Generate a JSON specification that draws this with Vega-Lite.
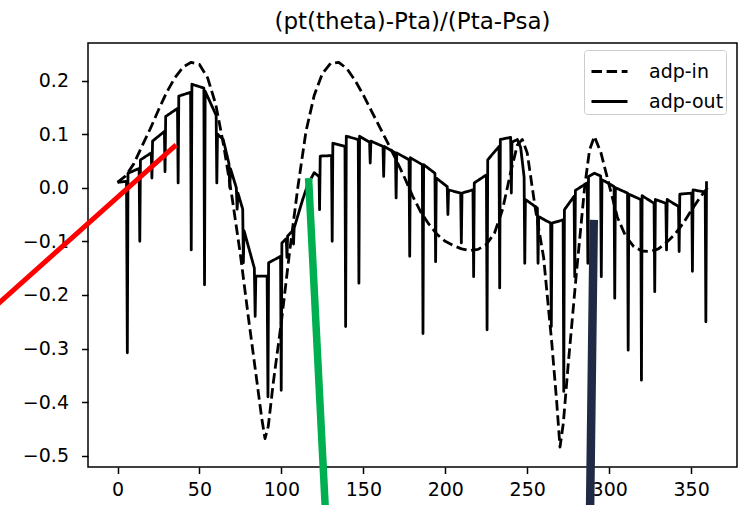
{
"$schema": "https://vega.github.io/schema/vega-lite/v6.json",
"width": 649, "height": 424,
"autosize": {"type": "none"},
"padding": {"left": 88, "top": 43, "right": 14, "bottom": 38},
"background": "white",
"title": {"text": "(pt(theta)-Pta)/(Pta-Psa)", "fontSize": 23, "font": "DejaVu Sans", "fontWeight": "normal", "color": "black", "offset": 9, "anchor": "middle"},
"config": {
  "view": {"stroke": "black", "strokeWidth": 1.5},
  "axis": {"grid": false, "domain": false, "tickColor": "black", "tickWidth": 1.5, "tickSize": 6.5, "labelFont": "DejaVu Sans", "labelFontSize": 19, "labelColor": "black", "labelPadding": 7, "title": null},
  "axisY": {"labelPadding": 13}
},
"datasets": {
  "series": [
{"s":"adp-in","i":0,"x":0,"y":0.01},{"s":"adp-in","i":1,"x":5,"y":0.022},{"s":"adp-in","i":2,"x":10,"y":0.045},{"s":"adp-in","i":3,"x":15,"y":0.078},{"s":"adp-in","i":4,"x":20,"y":0.11},{"s":"adp-in","i":5,"x":25,"y":0.145},{"s":"adp-in","i":6,"x":30,"y":0.178},{"s":"adp-in","i":7,"x":35,"y":0.205},{"s":"adp-in","i":8,"x":40,"y":0.225},{"s":"adp-in","i":9,"x":45,"y":0.234},{"s":"adp-in","i":10,"x":50,"y":0.23},{"s":"adp-in","i":11,"x":55,"y":0.205},{"s":"adp-in","i":12,"x":60,"y":0.155},{"s":"adp-in","i":13,"x":65,"y":0.075},{"s":"adp-in","i":14,"x":70,"y":-0.02},{"s":"adp-in","i":15,"x":75,"y":-0.125},{"s":"adp-in","i":16,"x":80,"y":-0.245},{"s":"adp-in","i":17,"x":85,"y":-0.36},{"s":"adp-in","i":18,"x":88,"y":-0.43},{"s":"adp-in","i":19,"x":90,"y":-0.468},{"s":"adp-in","i":20,"x":92,"y":-0.445},{"s":"adp-in","i":21,"x":95,"y":-0.365},{"s":"adp-in","i":22,"x":100,"y":-0.25},{"s":"adp-in","i":23,"x":105,"y":-0.12},{"s":"adp-in","i":24,"x":110,"y":0.0},{"s":"adp-in","i":25,"x":115,"y":0.105},{"s":"adp-in","i":26,"x":120,"y":0.172},{"s":"adp-in","i":27,"x":125,"y":0.213},{"s":"adp-in","i":28,"x":130,"y":0.232},{"s":"adp-in","i":29,"x":135,"y":0.234},{"s":"adp-in","i":30,"x":140,"y":0.222},{"s":"adp-in","i":31,"x":145,"y":0.2},{"s":"adp-in","i":32,"x":150,"y":0.173},{"s":"adp-in","i":33,"x":155,"y":0.143},{"s":"adp-in","i":34,"x":160,"y":0.113},{"s":"adp-in","i":35,"x":165,"y":0.083},{"s":"adp-in","i":36,"x":170,"y":0.052},{"s":"adp-in","i":37,"x":175,"y":0.02},{"s":"adp-in","i":38,"x":180,"y":-0.015},{"s":"adp-in","i":39,"x":185,"y":-0.045},{"s":"adp-in","i":40,"x":190,"y":-0.068},{"s":"adp-in","i":41,"x":195,"y":-0.087},{"s":"adp-in","i":42,"x":200,"y":-0.1},{"s":"adp-in","i":43,"x":205,"y":-0.108},{"s":"adp-in","i":44,"x":210,"y":-0.114},{"s":"adp-in","i":45,"x":215,"y":-0.117},{"s":"adp-in","i":46,"x":220,"y":-0.115},{"s":"adp-in","i":47,"x":225,"y":-0.106},{"s":"adp-in","i":48,"x":230,"y":-0.085},{"s":"adp-in","i":49,"x":235,"y":-0.04},{"s":"adp-in","i":50,"x":240,"y":0.03},{"s":"adp-in","i":51,"x":244,"y":0.08},{"s":"adp-in","i":52,"x":247,"y":0.09},{"s":"adp-in","i":53,"x":250,"y":0.065},{"s":"adp-in","i":54,"x":255,"y":-0.04},{"s":"adp-in","i":55,"x":260,"y":-0.13},{"s":"adp-in","i":56,"x":265,"y":-0.29},{"s":"adp-in","i":57,"x":268,"y":-0.4},{"s":"adp-in","i":58,"x":270,"y":-0.484},{"s":"adp-in","i":59,"x":272,"y":-0.44},{"s":"adp-in","i":60,"x":275,"y":-0.33},{"s":"adp-in","i":61,"x":280,"y":-0.16},{"s":"adp-in","i":62,"x":285,"y":0.0},{"s":"adp-in","i":63,"x":288,"y":0.07},{"s":"adp-in","i":64,"x":291,"y":0.096},{"s":"adp-in","i":65,"x":295,"y":0.065},{"s":"adp-in","i":66,"x":300,"y":0.005},{"s":"adp-in","i":67,"x":305,"y":-0.055},{"s":"adp-in","i":68,"x":310,"y":-0.09},{"s":"adp-in","i":69,"x":315,"y":-0.11},{"s":"adp-in","i":70,"x":320,"y":-0.118},{"s":"adp-in","i":71,"x":325,"y":-0.119},{"s":"adp-in","i":72,"x":330,"y":-0.114},{"s":"adp-in","i":73,"x":335,"y":-0.102},{"s":"adp-in","i":74,"x":340,"y":-0.087},{"s":"adp-in","i":75,"x":345,"y":-0.067},{"s":"adp-in","i":76,"x":350,"y":-0.043},{"s":"adp-in","i":77,"x":355,"y":-0.02},{"s":"adp-in","i":78,"x":360,"y":0.0},
{"s":"adp-out","i":0,"x":0,"y":0.01},{"s":"adp-out","i":1,"x":5.5,"y":0.012},{"s":"adp-out","i":2,"x":6,"y":-0.308},{"s":"adp-out","i":3,"x":6.4,"y":0.027},{"s":"adp-out","i":4,"x":13.2,"y":0.036},{"s":"adp-out","i":5,"x":13.6,"y":-0.1},{"s":"adp-out","i":6,"x":14,"y":0.052},{"s":"adp-out","i":7,"x":20.6,"y":0.065},{"s":"adp-out","i":8,"x":21,"y":0.018},{"s":"adp-out","i":9,"x":21.4,"y":0.087},{"s":"adp-out","i":10,"x":28.6,"y":0.105},{"s":"adp-out","i":11,"x":29,"y":0.03},{"s":"adp-out","i":12,"x":29.4,"y":0.133},{"s":"adp-out","i":13,"x":36.6,"y":0.148},{"s":"adp-out","i":14,"x":37,"y":0.009},{"s":"adp-out","i":15,"x":37.4,"y":0.171},{"s":"adp-out","i":16,"x":44.6,"y":0.178},{"s":"adp-out","i":17,"x":45,"y":-0.116},{"s":"adp-out","i":18,"x":45.4,"y":0.193},{"s":"adp-out","i":19,"x":52.7,"y":0.186},{"s":"adp-out","i":20,"x":53.1,"y":-0.181},{"s":"adp-out","i":21,"x":53.5,"y":0.18},{"s":"adp-out","i":22,"x":60.2,"y":0.135},{"s":"adp-out","i":23,"x":60.6,"y":0.009},{"s":"adp-out","i":24,"x":61,"y":0.1},{"s":"adp-out","i":25,"x":64.5,"y":0.09},{"s":"adp-out","i":26,"x":68,"y":0.045},{"s":"adp-out","i":27,"x":68.5,"y":0.0},{"s":"adp-out","i":28,"x":69,"y":0.035},{"s":"adp-out","i":29,"x":72.5,"y":0.0},{"s":"adp-out","i":30,"x":73,"y":-0.04},{"s":"adp-out","i":31,"x":73.5,"y":-0.01},{"s":"adp-out","i":32,"x":76.4,"y":-0.04},{"s":"adp-out","i":33,"x":76.8,"y":-0.14},{"s":"adp-out","i":34,"x":77.2,"y":-0.08},{"s":"adp-out","i":35,"x":83.5,"y":-0.15},{"s":"adp-out","i":36,"x":84,"y":-0.24},{"s":"adp-out","i":37,"x":84.4,"y":-0.165},{"s":"adp-out","i":38,"x":91.3,"y":-0.165},{"s":"adp-out","i":39,"x":91.8,"y":-0.39},{"s":"adp-out","i":40,"x":92.2,"y":-0.14},{"s":"adp-out","i":41,"x":99.5,"y":-0.128},{"s":"adp-out","i":42,"x":99.9,"y":-0.378},{"s":"adp-out","i":43,"x":100.3,"y":-0.103},{"s":"adp-out","i":44,"x":103,"y":-0.095},{"s":"adp-out","i":45,"x":103.4,"y":-0.13},{"s":"adp-out","i":46,"x":103.8,"y":-0.09},{"s":"adp-out","i":47,"x":107,"y":-0.08},{"s":"adp-out","i":48,"x":107.4,"y":-0.105},{"s":"adp-out","i":49,"x":107.8,"y":-0.075},{"s":"adp-out","i":50,"x":113,"y":-0.022},{"s":"adp-out","i":51,"x":116,"y":0.005},{"s":"adp-out","i":52,"x":120,"y":0.028},{"s":"adp-out","i":53,"x":123,"y":0.021},{"s":"adp-out","i":54,"x":123.3,"y":-0.041},{"s":"adp-out","i":55,"x":123.7,"y":0.059},{"s":"adp-out","i":56,"x":130.6,"y":0.06},{"s":"adp-out","i":57,"x":131,"y":-0.1},{"s":"adp-out","i":58,"x":131.4,"y":0.083},{"s":"adp-out","i":59,"x":138.8,"y":0.077},{"s":"adp-out","i":60,"x":139.2,"y":-0.259},{"s":"adp-out","i":61,"x":139.6,"y":0.096},{"s":"adp-out","i":62,"x":146.9,"y":0.09},{"s":"adp-out","i":63,"x":147.3,"y":-0.178},{"s":"adp-out","i":64,"x":147.7,"y":0.096},{"s":"adp-out","i":65,"x":153.8,"y":0.085},{"s":"adp-out","i":66,"x":154.2,"y":0.046},{"s":"adp-out","i":67,"x":154.6,"y":0.087},{"s":"adp-out","i":68,"x":162,"y":0.077},{"s":"adp-out","i":69,"x":162.4,"y":0.021},{"s":"adp-out","i":70,"x":162.8,"y":0.077},{"s":"adp-out","i":71,"x":169.6,"y":0.065},{"s":"adp-out","i":72,"x":170,"y":-0.019},{"s":"adp-out","i":73,"x":170.4,"y":0.065},{"s":"adp-out","i":74,"x":177.9,"y":0.052},{"s":"adp-out","i":75,"x":178.3,"y":-0.128},{"s":"adp-out","i":76,"x":178.7,"y":0.056},{"s":"adp-out","i":77,"x":186,"y":0.043},{"s":"adp-out","i":78,"x":186.4,"y":-0.272},{"s":"adp-out","i":79,"x":186.8,"y":0.043},{"s":"adp-out","i":80,"x":193.7,"y":0.027},{"s":"adp-out","i":81,"x":194.1,"y":-0.138},{"s":"adp-out","i":82,"x":194.5,"y":0.018},{"s":"adp-out","i":83,"x":201.2,"y":0.002},{"s":"adp-out","i":84,"x":201.6,"y":-0.05},{"s":"adp-out","i":85,"x":202,"y":-0.004},{"s":"adp-out","i":86,"x":209.4,"y":-0.01},{"s":"adp-out","i":87,"x":209.8,"y":-0.103},{"s":"adp-out","i":88,"x":210.2,"y":-0.01},{"s":"adp-out","i":89,"x":216.9,"y":-0.004},{"s":"adp-out","i":90,"x":217.3,"y":-0.166},{"s":"adp-out","i":91,"x":217.7,"y":0.009},{"s":"adp-out","i":92,"x":225.1,"y":0.024},{"s":"adp-out","i":93,"x":225.5,"y":-0.265},{"s":"adp-out","i":94,"x":225.9,"y":0.052},{"s":"adp-out","i":95,"x":232.8,"y":0.077},{"s":"adp-out","i":96,"x":233.2,"y":-0.187},{"s":"adp-out","i":97,"x":233.6,"y":0.09},{"s":"adp-out","i":98,"x":239.9,"y":0.094},{"s":"adp-out","i":99,"x":240.3,"y":-0.01},{"s":"adp-out","i":100,"x":240.7,"y":0.085},{"s":"adp-out","i":101,"x":244,"y":0.09},{"s":"adp-out","i":102,"x":246,"y":0.075},{"s":"adp-out","i":103,"x":248.1,"y":0.02},{"s":"adp-out","i":104,"x":248.5,"y":-0.141},{"s":"adp-out","i":105,"x":248.9,"y":-0.022},{"s":"adp-out","i":106,"x":256.2,"y":-0.038},{"s":"adp-out","i":107,"x":256.6,"y":-0.141},{"s":"adp-out","i":108,"x":257,"y":-0.054},{"s":"adp-out","i":109,"x":264.3,"y":-0.066},{"s":"adp-out","i":110,"x":264.7,"y":-0.259},{"s":"adp-out","i":111,"x":265.1,"y":-0.066},{"s":"adp-out","i":112,"x":271.9,"y":-0.06},{"s":"adp-out","i":113,"x":272.3,"y":-0.38},{"s":"adp-out","i":114,"x":272.7,"y":-0.041},{"s":"adp-out","i":115,"x":278.6,"y":-0.016},{"s":"adp-out","i":116,"x":279,"y":-0.166},{"s":"adp-out","i":117,"x":279.4,"y":-0.005},{"s":"adp-out","i":118,"x":286.6,"y":0.009},{"s":"adp-out","i":119,"x":287,"y":-0.141},{"s":"adp-out","i":120,"x":287.4,"y":0.021},{"s":"adp-out","i":121,"x":291,"y":0.027},{"s":"adp-out","i":122,"x":294.8,"y":0.022},{"s":"adp-out","i":123,"x":295.2,"y":-0.166},{"s":"adp-out","i":124,"x":295.6,"y":0.015},{"s":"adp-out","i":125,"x":303,"y":0.002},{"s":"adp-out","i":126,"x":303.4,"y":-0.206},{"s":"adp-out","i":127,"x":303.8,"y":0.0},{"s":"adp-out","i":128,"x":311.2,"y":-0.01},{"s":"adp-out","i":129,"x":311.6,"y":-0.303},{"s":"adp-out","i":130,"x":312,"y":-0.012},{"s":"adp-out","i":131,"x":319.3,"y":-0.022},{"s":"adp-out","i":132,"x":319.7,"y":-0.359},{"s":"adp-out","i":133,"x":320.1,"y":-0.015},{"s":"adp-out","i":134,"x":327.4,"y":-0.029},{"s":"adp-out","i":135,"x":327.8,"y":-0.194},{"s":"adp-out","i":136,"x":328.2,"y":-0.022},{"s":"adp-out","i":137,"x":334.6,"y":-0.029},{"s":"adp-out","i":138,"x":335,"y":-0.116},{"s":"adp-out","i":139,"x":335.4,"y":-0.022},{"s":"adp-out","i":140,"x":342.3,"y":-0.035},{"s":"adp-out","i":141,"x":342.7,"y":-0.119},{"s":"adp-out","i":142,"x":343.1,"y":-0.012},{"s":"adp-out","i":143,"x":350.4,"y":-0.01},{"s":"adp-out","i":144,"x":350.8,"y":-0.156},{"s":"adp-out","i":145,"x":351.2,"y":-0.004},{"s":"adp-out","i":146,"x":358.6,"y":-0.008},{"s":"adp-out","i":147,"x":359,"y":-0.25},{"s":"adp-out","i":148,"x":359.4,"y":0.012}
  ],
  "strokes": [
    {"name": "red", "x1": -80, "y1": -0.236, "x2": 35.8, "y2": 0.080},
    {"name": "green", "x1": 116.6, "y1": 0.018, "x2": 127.0, "y2": -0.611},
    {"name": "navy", "x1": 290.6, "y1": -0.060, "x2": 288.3, "y2": -0.611}
  ]
},
"layer": [
  {
    "data": {"name": "series"},
    "mark": {"type": "line", "strokeWidth": 2.8, "strokeJoin": "round", "color": "black"},
    "encoding": {
      "x": {"field": "x", "type": "quantitative", "scale": {"domain": [-18, 378], "nice": false, "zero": false}, "axis": {"values": [0, 50, 100, 150, 200, 250, 300, 350]}},
      "y": {"field": "y", "type": "quantitative", "scale": {"domain": [-0.521, 0.27], "nice": false, "zero": false}, "axis": {"values": [-0.5, -0.4, -0.3, -0.2, -0.1, 0.0, 0.1, 0.2], "format": ".1f"}},
      "order": {"field": "i", "type": "quantitative"},
      "strokeDash": {"field": "s", "type": "nominal", "scale": {"domain": ["adp-in", "adp-out"], "range": [[10.5, 4.6], [1, 0]]},
        "legend": {"title": null, "orient": "none", "legendX": 496, "legendY": 7, "symbolType": "stroke", "symbolSize": 1296, "symbolStrokeWidth": 2.8, "symbolStrokeColor": "black", "symbolOffset": 4, "labelFont": "DejaVu Sans", "labelFontSize": 19, "labelColor": "black", "padding": 2, "strokeColor": "#cccccc", "fillColor": "white", "cornerRadius": 3, "rowPadding": -4, "labelOffset": 20}}
    }
  },
  {
    "data": {"name": "strokes"},
    "transform": [{"filter": "datum.name === 'red'"}],
    "mark": {"type": "rule", "color": "#ff0000", "strokeWidth": 5, "strokeCap": "butt", "clip": false},
    "encoding": {
      "x": {"field": "x1", "type": "quantitative", "scale": {"domain": [-18, 378], "nice": false, "zero": false}},
      "y": {"field": "y1", "type": "quantitative", "scale": {"domain": [-0.521, 0.27], "nice": false, "zero": false}},
      "x2": {"field": "x2"}, "y2": {"field": "y2"}
    }
  },
  {
    "data": {"name": "strokes"},
    "transform": [{"filter": "datum.name === 'green'"}],
    "mark": {"type": "rule", "color": "#00b050", "strokeWidth": 7.5, "strokeCap": "butt", "clip": false},
    "encoding": {
      "x": {"field": "x1", "type": "quantitative", "scale": {"domain": [-18, 378], "nice": false, "zero": false}},
      "y": {"field": "y1", "type": "quantitative", "scale": {"domain": [-0.521, 0.27], "nice": false, "zero": false}},
      "x2": {"field": "x2"}, "y2": {"field": "y2"}
    }
  },
  {
    "data": {"name": "strokes"},
    "transform": [{"filter": "datum.name === 'navy'"}],
    "mark": {"type": "rule", "color": "#1f2a44", "strokeWidth": 8.5, "strokeCap": "butt", "clip": false},
    "encoding": {
      "x": {"field": "x1", "type": "quantitative", "scale": {"domain": [-18, 378], "nice": false, "zero": false}},
      "y": {"field": "y1", "type": "quantitative", "scale": {"domain": [-0.521, 0.27], "nice": false, "zero": false}},
      "x2": {"field": "x2"}, "y2": {"field": "y2"}
    }
  }
]
}
